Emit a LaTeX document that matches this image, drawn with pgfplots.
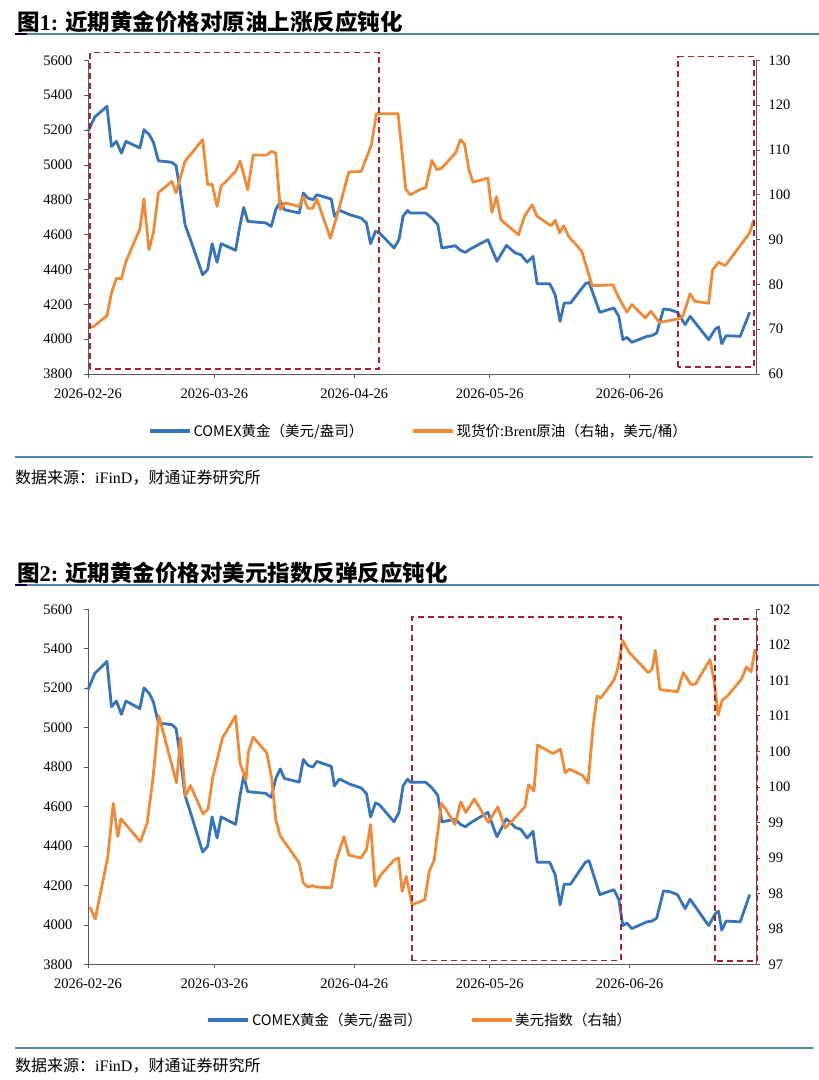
\documentclass[border=0pt]{standalone}
\usepackage{pgfplots}
\pgfplotsset{compat=1.18}
\usepackage{pgfplotstable}
\usepackage{fontspec}
\setmainfont{Liberation Serif}
\newfontfamily\cjk{Noto Sans CJK SC}
\definecolor{goldblue}{RGB}{55,115,185}
\definecolor{oilorange}{RGB}{237,139,58}
\definecolor{boxred}{RGB}{165,35,45}
\definecolor{rulecol}{RGB}{80,135,165}
\definecolor{axcol}{RGB}{90,90,90}

\pgfplotstableread{
d v
0 5192
1.5 5275
4.2 5336
5.2 5106
6.3 5135
7.4 5068
8.4 5135
11.5 5097
12.4 5202
13.6 5173
14.5 5129
15.6 5024
18.6 5015
19.5 4996
20.4 4858
21.5 4657
22.7 4571
25.4 4370
26.5 4399
27.5 4548
28.6 4441
29.5 4548
32.7 4510
33.7 4657
34.5 4756
35.4 4676
39.4 4667
40.6 4647
41.6 4743
42.6 4791
43.5 4743
46.8 4724
47.7 4839
48.7 4810
49.8 4800
50.7 4829
53.9 4804
54.6 4705
55.7 4740
58.0 4714
60.5 4695
61.7 4666
62.6 4548
63.7 4619
64.6 4609
67.8 4523
68.9 4571
69.8 4705
70.8 4739
71.4 4724
74.8 4724
76.2 4695
77.5 4657
78.4 4523
81.4 4536
82.5 4510
83.6 4498
84.7 4517
88.6 4571
90.6 4447
92.7 4538
94.7 4494
95.9 4485
97.3 4441
98.6 4475
99.5 4318
102.3 4318
103.5 4255
104.6 4102
105.5 4207
106.9 4207
110.2 4318
111.0 4326
113.4 4154
116.5 4179
117.6 4131
118.5 3997
119.4 4010
120.5 3982
123.8 4016
124.9 4020
126.0 4035
127.5 4173
128.9 4169
130.6 4154
132.3 4083
133.4 4131
137.5 3997
139.0 4058
139.7 4070
140.4 3974
141.4 4020
144.5 4016
146.6 4154
}\gold

\pgfplotstableread{
d v
0.2 70.6
1.1 70.5
4.2 73.0
5.2 78.1
6.3 81.4
7.4 81.2
8.4 85.1
11.5 92.4
12.4 99.1
13.5 87.7
14.5 91.6
15.6 100.5
18.6 103.0
19.5 100.4
21.5 107.5
25.4 112.3
26.5 102.3
27.5 102.3
28.6 97.4
29.5 101.9
32.7 105.2
33.7 107.5
35.4 101.1
36.6 108.9
39.7 108.9
40.6 109.7
41.6 109.3
42.6 96.7
43.6 98.2
46.8 97.4
47.7 99.6
48.7 97.0
49.8 97.0
50.7 99.1
53.7 90.3
55.5 96.5
57.8 105.1
60.5 105.2
61.7 108.2
62.8 111.2
63.9 118.1
68.7 118.1
70.4 101.3
71.4 100.0
73.8 101.3
74.8 101.5
76.2 107.7
77.3 105.6
78.4 106.0
81.4 109.3
82.5 112.3
83.4 111.4
84.4 105.6
85.3 102.8
88.6 103.7
89.5 96.1
90.5 99.6
91.5 94.4
95.4 91.1
96.7 95.2
98.4 97.8
99.5 95.2
102.6 93.1
103.5 94.3
104.5 91.5
105.4 93.1
106.5 90.7
109.4 87.4
111.7 79.7
116.3 79.9
117.6 77.0
118.3 75.8
119.4 73.8
120.5 75.5
123.5 72.5
124.7 74.0
126.6 71.5
130.8 72.3
131.8 72.9
133.4 77.9
134.5 76.2
137.5 75.8
138.4 83.3
139.7 84.9
141.2 84.2
146.6 91.5
147.5 94.4
}\oil

\pgfplotstableread{
d v
0.4 97.81
1.6 97.64
4.4 98.52
5.6 99.27
6.6 98.80
7.3 99.05
11.6 98.73
13.1 98.99
14.4 99.62
15.7 100.50
19.6 99.56
20.5 100.19
21.6 99.37
22.7 99.52
25.5 99.12
26.6 99.19
27.6 99.62
29.8 100.19
32.7 100.50
33.7 99.83
35.0 99.60
35.5 99.98
36.6 100.20
39.6 99.98
40.7 99.62
41.6 99.04
42.6 98.81
46.8 98.43
47.7 98.15
48.7 98.09
49.8 98.11
50.7 98.09
53.9 98.08
55.0 98.47
56.7 98.80
57.8 98.54
60.5 98.50
61.7 98.62
62.6 98.97
63.6 98.10
64.6 98.24
67.8 98.47
68.8 98.50
69.6 98.03
70.5 98.24
71.8 97.84
74.6 97.91
75.6 98.31
76.7 98.47
78.3 99.27
79.3 99.18
81.3 98.97
82.6 99.29
83.7 99.14
85.6 99.33
88.7 99.00
90.8 99.22
92.4 98.92
94.8 99.08
96.8 99.22
97.6 99.53
98.8 99.44
99.6 100.09
103.0 99.97
104.7 100.03
105.7 99.70
106.7 99.75
109.6 99.66
110.8 99.55
111.9 100.35
112.8 100.78
113.6 100.75
116.5 101.00
117.3 101.15
118.5 101.56
119.8 101.40
124.1 101.11
125.0 101.16
125.7 101.42
126.7 100.87
130.6 100.84
131.9 101.11
133.6 100.94
134.6 100.95
137.8 101.29
138.7 101.00
139.6 100.51
140.5 100.72
141.7 100.78
144.8 101.02
145.9 101.19
146.9 101.12
147.8 101.44
}\usd

\pgfplotsset{
  base/.style={
    scale only axis, width=668pt, xmin=0, xmax=148,
    tick align=outside, major tick length=4pt,
    every tick/.style={axcol, line width=0.8pt},
    axis line style={axcol, line width=0.9pt},
    tick label style={font=\rmfamily\fontsize{14.5}{15}\selectfont, black},
    /pgf/number format/1000 sep={},
    /pgf/number format/assume math mode=true,
    clip=false,
  },
  leftax/.style={
    base, axis x line*=bottom, axis y line*=left,
    xtick={0,28,59,89,120},
    xticklabels={2026-02-26,2026-03-26,2026-04-26,2026-05-26,2026-06-26},
    xticklabel style={yshift=-7pt},
    ymin=3800, ymax=5600, ytick={3800,4000,...,5600},
    yticklabel style={xshift=-8pt},
  },
  rightax/.style={
    base, axis x line=none, axis y line*=right,
    yticklabel style={xshift=5pt},
    legend style={draw=none, fill=none, font=\cjk\fontsize{14.5}{15}\selectfont,
      legend cell align=left, /tikz/every even column/.append style={column sep=46pt},
      nodes={inner sep=2pt}},
    legend columns=2,
    legend image code/.code={\draw[##1, line width=3.2pt] (0pt,0pt) -- (40pt,0pt);},
  },
  goldline/.style={goldblue, line width=2.8pt, line join=round},
  oilline/.style={oilorange, line width=2.8pt, line join=round},
}

\begin{document}
\begin{tikzpicture}[x=1pt,y=1pt]
\path[use as bounding box] (0,0) rectangle (819,1080);

% ---------- Chart 1 ----------
\node[anchor=west, inner sep=0] at (17,1058.5) {\cjk\bfseries\fontsize{22.5}{23}\selectfont 图{\rmfamily\bfseries 1:} 近期黄金价格对原油上涨反应钝化};
\draw[rulecol, line width=1.3pt] (15,1046) -- (819,1046);
\draw[black!80!blue, line width=2.5pt] (15,1046) -- (27,1046);

\begin{axis}[leftax, at={(88pt,706pt)}, anchor=south west, height=313.6pt]
\addplot[goldline] table[x=d,y=v] {\gold};
\end{axis}
\begin{axis}[rightax, at={(88pt,706pt)}, anchor=south west, height=313.6pt,
  ymin=60, ymax=130, ytick={60,70,...,130},
  legend style={at={(0.495,-0.182)}, anchor=center}]
\addlegendimage{goldline}
\addlegendentry{COMEX黄金（美元/盎司）}
\addplot[oilline] table[x=d,y=v] {\oil};
\addlegendentry{现货价:{\rmfamily Brent}原油（右轴，美元/桶）}
\end{axis}

\draw[boxred, line width=1.5pt, dash pattern=on 6pt off 4pt] (90,711) rectangle (379,1027.3);
\draw[boxred, line width=1.5pt, dash pattern=on 6pt off 4pt] (678,713) rectangle (754,1023.3);

\draw[rulecol, line width=1.3pt] (15,623) -- (813,623);
\node[anchor=west, inner sep=0] at (15,602) {\cjk\fontsize{16}{17}\selectfont 数据来源：{\rmfamily iFinD}，财通证券研究所};

% ---------- Chart 2 ----------
\node[anchor=west, inner sep=0] at (17,507) {\cjk\bfseries\fontsize{22.5}{23}\selectfont 图{\rmfamily\bfseries 2:} 近期黄金价格对美元指数反弹反应钝化};
\draw[rulecol, line width=1.3pt] (15,495) -- (819,495);
\draw[black!80!blue, line width=2.5pt] (15,495) -- (27,495);

\begin{axis}[leftax, at={(88pt,115.5pt)}, anchor=south west, height=355.2pt]
\addplot[goldline] table[x=d,y=v] {\gold};
\end{axis}
\begin{axis}[rightax, at={(88pt,115.5pt)}, anchor=south west, height=355.2pt,
  ymin=97, ymax=102, ytick={97,97.5,...,102},
  yticklabels={97,98,98,99,99,100,100,101,101,102,102},
  legend style={at={(0.497,-0.156)}, anchor=center}]
\addlegendimage{goldline}
\addlegendentry{COMEX黄金（美元/盎司）}
\addplot[oilline] table[x=d,y=v] {\usd};
\addlegendentry{美元指数（右轴）}
\end{axis}

\draw[boxred, line width=1.5pt, dash pattern=on 6pt off 4pt] (412,119.3) rectangle (621,463);
\draw[boxred, line width=1.5pt, dash pattern=on 6pt off 4pt] (715,119) rectangle (757,461);

\draw[rulecol, line width=1.3pt] (15,32) -- (813,32);
\node[anchor=west, inner sep=0] at (15,14) {\cjk\fontsize{16}{17}\selectfont 数据来源：{\rmfamily iFinD}，财通证券研究所};
\end{tikzpicture}
\end{document}
